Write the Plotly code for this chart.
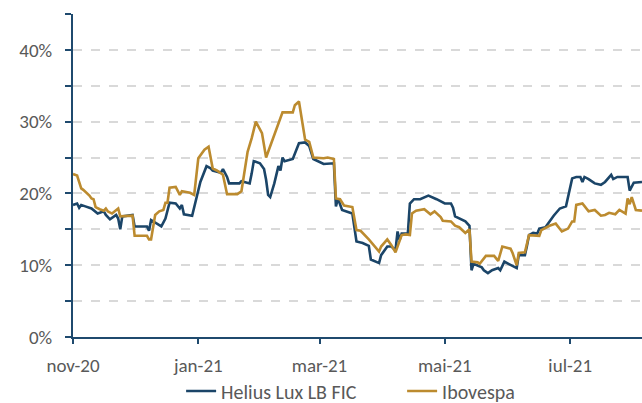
import plotly.graph_objects as go

# ---- data ----
helius_dates = [
    "2020-11-01", "2020-11-03", "2020-11-04", "2020-11-05", "2020-11-07", "2020-11-10", "2020-11-13",
    "2020-11-16", "2020-11-17", "2020-11-19", "2020-11-22", "2020-11-23", "2020-11-24", "2020-11-25",
    "2020-11-30", "2020-12-01", "2020-12-07", "2020-12-08", "2020-12-09", "2020-12-14", "2020-12-16",
    "2020-12-18", "2020-12-21", "2020-12-23", "2020-12-24", "2020-12-25", "2020-12-29", "2020-12-31",
    "2021-01-02", "2021-01-05", "2021-01-07", "2021-01-08", "2021-01-12", "2021-01-13", "2021-01-15",
    "2021-01-16", "2021-01-21", "2021-01-22", "2021-01-26", "2021-01-27", "2021-01-28", "2021-01-31",
    "2021-02-02", "2021-02-03", "2021-02-04", "2021-02-05", "2021-02-07", "2021-02-09", "2021-02-10",
    "2021-02-11", "2021-02-12", "2021-02-16", "2021-02-19", "2021-02-22", "2021-02-24", "2021-02-26",
    "2021-03-03", "2021-03-08", "2021-03-09", "2021-03-10", "2021-03-12", "2021-03-17", "2021-03-19",
    "2021-03-22", "2021-03-25", "2021-03-26", "2021-03-30", "2021-03-31", "2021-04-03", "2021-04-05",
    "2021-04-07", "2021-04-08", "2021-04-09", "2021-04-10", "2021-04-13", "2021-04-14", "2021-04-16",
    "2021-04-19", "2021-04-23", "2021-04-27", "2021-05-01", "2021-05-04", "2021-05-05", "2021-05-06",
    "2021-05-11", "2021-05-13", "2021-05-14", "2021-05-15", "2021-05-19", "2021-05-20", "2021-05-22",
    "2021-05-24", "2021-05-27", "2021-05-28", "2021-05-30", "2021-06-01", "2021-06-05", "2021-06-06",
    "2021-06-09", "2021-06-10", "2021-06-11", "2021-06-13", "2021-06-15", "2021-06-16", "2021-06-19",
    "2021-06-21", "2021-06-23", "2021-06-26", "2021-06-29", "2021-07-02", "2021-07-04", "2021-07-06",
    "2021-07-07", "2021-07-08", "2021-07-10", "2021-07-13", "2021-07-16", "2021-07-18", "2021-07-21",
    "2021-07-22", "2021-07-24", "2021-07-29", "2021-07-30", "2021-08-01", "2021-08-05",
]
helius = [
    18.4, 18.6, 18.0, 18.4, 18.2, 17.9, 17.2,
    17.5, 17.0, 16.4, 17.0, 16.5, 15.0, 16.8,
    17.0, 15.4, 15.4, 14.8, 16.3, 15.4, 16.5,
    18.7, 18.6, 17.9, 18.4, 17.1, 16.9, 19.3,
    21.6, 23.8, 23.5, 23.2, 22.9, 23.4, 22.3,
    21.4, 21.4, 21.7, 21.4, 22.8, 24.5, 24.2,
    23.4, 21.9, 19.8, 19.5, 21.4, 23.8, 23.2,
    25.0, 24.5, 24.8, 27.0, 27.1, 26.6, 24.8,
    24.1, 24.2, 18.2, 19.3, 17.7, 17.2, 13.3,
    13.1, 12.7, 10.8, 10.3, 11.4, 12.6, 12.6,
    12.1, 14.7, 13.5, 14.4, 14.4, 18.6, 19.2,
    19.2, 19.7, 19.2, 18.6, 18.6, 18.0, 16.8,
    16.1, 15.5, 9.3, 10.2, 9.7, 9.3, 8.9,
    9.3, 9.6, 9.3, 10.5, 10.2, 9.6, 11.4,
    11.4, 12.7, 14.2, 14.5, 14.4, 15.1, 15.3,
    16.1, 16.9, 17.9, 18.2, 22.1, 22.3, 22.3,
    21.6, 22.3, 22.0, 21.4, 21.2, 21.6, 22.6,
    22.0, 22.3, 22.3, 20.4, 21.5, 21.6,
]

ibov_dates = [
    "2020-11-01", "2020-11-03", "2020-11-05", "2020-11-06", "2020-11-09", "2020-11-10", "2020-11-11",
    "2020-11-12", "2020-11-14", "2020-11-16", "2020-11-17", "2020-11-18", "2020-11-20", "2020-11-23",
    "2020-11-24", "2020-11-27", "2020-11-30", "2020-12-01", "2020-12-07", "2020-12-08", "2020-12-09",
    "2020-12-11", "2020-12-13", "2020-12-15", "2020-12-16", "2020-12-17", "2020-12-18", "2020-12-21",
    "2020-12-23", "2020-12-24", "2020-12-28", "2020-12-30", "2021-01-01", "2021-01-04", "2021-01-06",
    "2021-01-08", "2021-01-10", "2021-01-13", "2021-01-15", "2021-01-20", "2021-01-22", "2021-01-25",
    "2021-01-27", "2021-01-29", "2021-02-01", "2021-02-03", "2021-02-09", "2021-02-11", "2021-02-16",
    "2021-02-17", "2021-02-19", "2021-02-22", "2021-02-24", "2021-02-26", "2021-03-03", "2021-03-05",
    "2021-03-08", "2021-03-09", "2021-03-11", "2021-03-13", "2021-03-17", "2021-03-19", "2021-03-21",
    "2021-03-25", "2021-03-30", "2021-03-31", "2021-04-03", "2021-04-05", "2021-04-07", "2021-04-10",
    "2021-04-12", "2021-04-14", "2021-04-15", "2021-04-17", "2021-04-21", "2021-04-24", "2021-04-26",
    "2021-04-29", "2021-04-30", "2021-05-04", "2021-05-06", "2021-05-08", "2021-05-11", "2021-05-13",
    "2021-05-14", "2021-05-17", "2021-05-18", "2021-05-21", "2021-05-25", "2021-05-27", "2021-05-29",
    "2021-06-02", "2021-06-03", "2021-06-05", "2021-06-06", "2021-06-09", "2021-06-11", "2021-06-13",
    "2021-06-16", "2021-06-17", "2021-06-21", "2021-06-24", "2021-06-27", "2021-06-30", "2021-07-02",
    "2021-07-03", "2021-07-04", "2021-07-07", "2021-07-10", "2021-07-13", "2021-07-16", "2021-07-18",
    "2021-07-20", "2021-07-23", "2021-07-25", "2021-07-28", "2021-07-29", "2021-07-30", "2021-07-31",
    "2021-08-02", "2021-08-05",
]
ibov = [
    22.7, 22.5, 20.7, 20.5, 19.7, 19.3, 19.2,
    18.1, 17.8, 17.6, 17.9, 17.5, 17.2, 17.9,
    16.8, 16.9, 16.9, 14.1, 14.1, 13.6, 13.6,
    17.0, 17.5, 17.7, 18.7, 18.7, 20.8, 20.9,
    19.8, 20.3, 20.1, 19.8, 24.9, 26.1, 26.5,
    23.5, 23.2, 22.6, 19.9, 19.9, 20.3, 25.8,
    27.7, 30.0, 28.4, 25.0, 29.8, 31.3, 31.3,
    32.3, 32.8, 27.5, 27.2, 25.0, 24.9, 25.0,
    24.8, 19.3, 19.2, 18.3, 18.1, 14.9, 14.8,
    13.6, 11.9, 12.6, 13.6, 12.8, 11.8, 14.2,
    14.3, 14.2, 17.2, 17.6, 17.8, 17.1, 17.5,
    16.7, 16.2, 16.1, 15.5, 15.3, 14.5, 15.0,
    10.5, 10.4, 10.2, 11.3, 11.3, 10.6, 12.6,
    12.3, 11.7, 10.0, 11.7, 11.8, 14.2, 14.2,
    14.1, 14.9, 15.5, 15.8, 14.7, 15.1, 16.1,
    16.1, 18.4, 18.6, 17.5, 17.7, 16.9, 17.0,
    17.3, 17.1, 17.7, 17.2, 19.3, 18.5, 19.5,
    17.7, 17.6,
]

x_tick_vals = ["2020-11-01", "2021-01-01", "2021-03-01", "2021-05-01", "2021-07-01"]
x_tick_text = ["nov-20", "jan-21", "mar-21", "mai-21", "jul-21"]
y_tick_vals = [0, 10, 20, 30, 40]
y_tick_text = ["0%", "10%", "20%", "30%", "40%"]

NAVY = "#1B4568"
GOLD = "#BC8B2F"
AXIS = "#1F4A6E"
GRID = "#D9D9D9"
TXT = "#595959"
FONT = "Carlito, Lato, 'Open Sans', sans-serif"
FS = 19

fig = go.Figure()
fig.add_trace(go.Scatter(x=helius_dates, y=helius, mode="lines", name="Helius Lux LB FIC",
                         line=dict(color=NAVY, width=2.6)))
fig.add_trace(go.Scatter(x=ibov_dates, y=ibov, mode="lines", name="Ibovespa",
                         line=dict(color=GOLD, width=2.6)))

fig.update_layout(
    width=642, height=403,
    margin=dict(l=73, r=0, t=14, b=66, autoexpand=False),
    paper_bgcolor="white", plot_bgcolor="white",
    font=dict(family=FONT, size=FS, color=TXT),
    showlegend=True,
    legend=dict(orientation="h", x=0.19, xanchor="left", y=-0.107, yanchor="top",
                font=dict(size=20, color=TXT), entrywidth=176, entrywidthmode="pixels",
                traceorder="normal"),
)
fig.update_xaxes(
    type="date", range=["2020-11-01", "2021-08-05"], automargin=False,
    tickmode="array", tickvals=x_tick_vals, ticktext=x_tick_text,
    ticks="outside", ticklen=5, tickwidth=1.5, tickcolor=AXIS,
    showline=True, linecolor=AXIS, linewidth=2,
    showgrid=False, zeroline=False,
    tickfont=dict(size=FS, color=TXT), ticklabelstandoff=5,
)
fig.update_yaxes(
    range=[0, 45], automargin=False,
    tickmode="array", tickvals=y_tick_vals, ticktext=y_tick_text,
    ticks="outside", ticklen=6, tickwidth=2, tickcolor=AXIS,
    showline=True, linecolor=AXIS, linewidth=2,
    showgrid=True, gridcolor=GRID, griddash="dash", gridwidth=1.5,
    zeroline=False,
    minor=dict(tickmode="linear", tick0=5, dtick=10, ticks="outside", ticklen=6, tickwidth=2,
               tickcolor=AXIS, showgrid=True, gridcolor=GRID, griddash="dash", gridwidth=1.5),
    tickfont=dict(size=FS, color=TXT), ticklabelstandoff=9,
)

fig.write_html("out.html", config={"displayModeBar": False},
               post_script="document.body.style.margin='0';document.body.style.padding='0';")
